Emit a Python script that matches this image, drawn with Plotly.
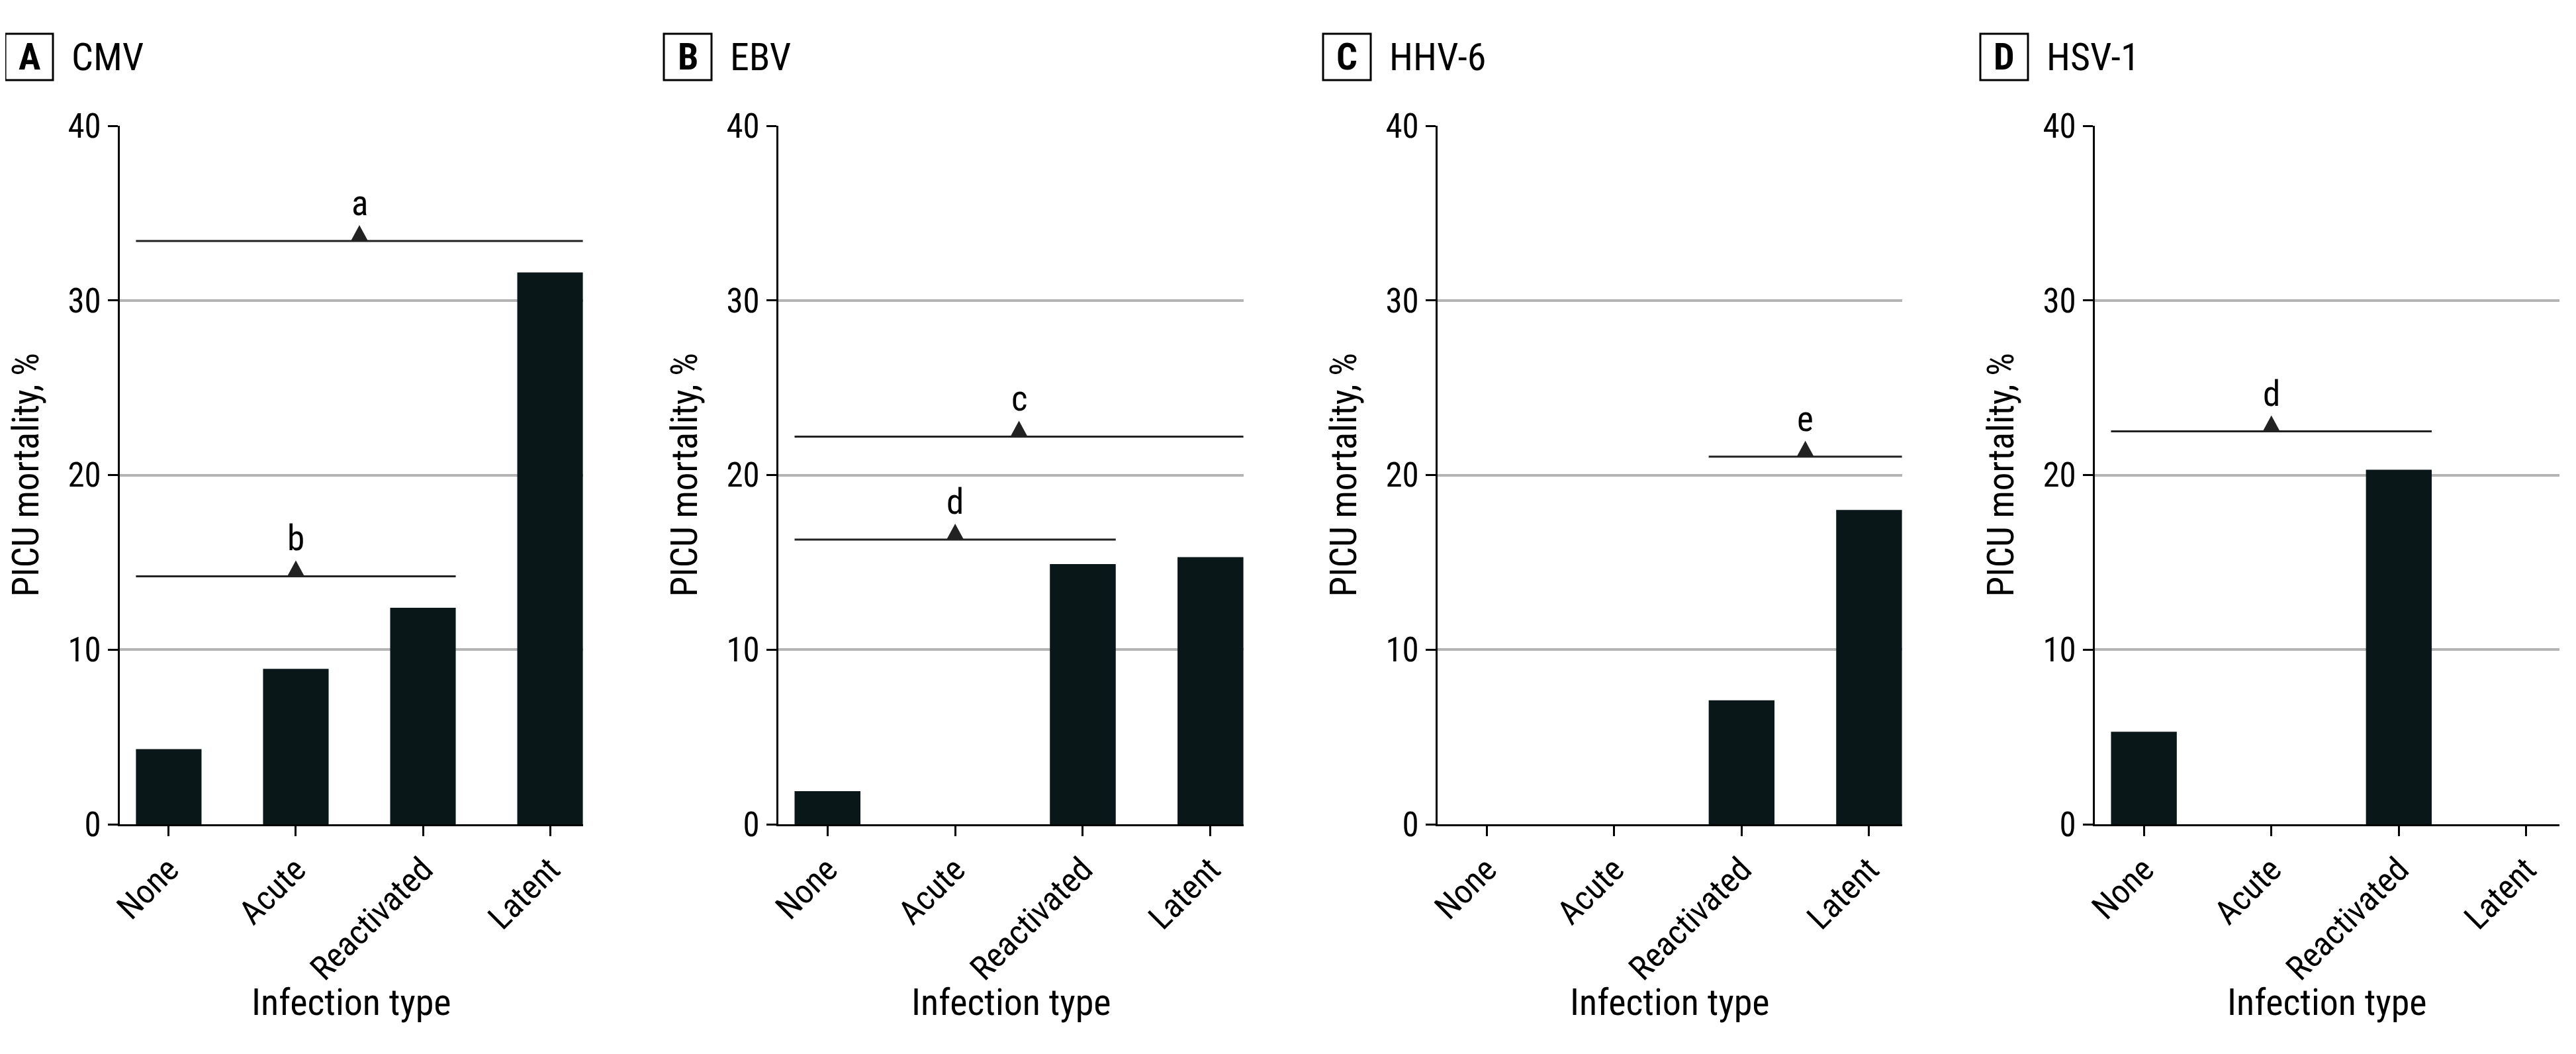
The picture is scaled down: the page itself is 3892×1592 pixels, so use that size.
import plotly.graph_objects as go

# ---------------- data ----------------
categories = ["None", "Acute", "Reactivated", "Latent"]
panel_letters = ["A", "B", "C", "D"]
panel_titles = ["CMV", "EBV", "HHV-6", "HSV-1"]

cmv_mortality = [4.3, 8.9, 12.4, 31.6]
ebv_mortality = [1.9, 0.0, 14.9, 15.3]
hhv6_mortality = [0.0, 0.0, 7.1, 18.0]
hsv1_mortality = [5.3, 0.0, 20.3, 0.0]

# brackets: (first category index, last category index, y value, label)
cmv_brackets = [(0, 3, 33.4, "a"), (0, 2, 14.2, "b")]
ebv_brackets = [(0, 3, 22.2, "c"), (0, 2, 16.3, "d")]
hhv6_brackets = [(2, 3, 21.05, "e")]
hsv1_brackets = [(0, 2, 22.5, "d")]

y_ticks = [0, 10, 20, 30, 40]
y_title = "PICU mortality, %"
x_title = "Infection type"

series = [cmv_mortality, ebv_mortality, hhv6_mortality, hsv1_mortality]
brackets = [cmv_brackets, ebv_brackets, hhv6_brackets, hsv1_brackets]

# ---------------- layout ----------------
W, H = 3892, 1592
OFF = 8  # compensate the page's default body margin
FONT = "Roboto Condensed, DejaVu Sans Condensed, Liberation Sans, sans-serif"
BAR_COLOR = "#0a1718"
LINE_COLOR = "#222222"
HALF_BAR = 0.258


def px_x(v):
    return (v - OFF) / W


def px_y(v):
    return 1 - (v - OFF) / H


panel_px = [(181, 881), (1176, 1879), (2172, 2874), (3165, 3867)]
plot_top_px, plot_bottom_px = 190, 1245
y_dom = [px_y(plot_bottom_px), px_y(plot_top_px)]

fig = go.Figure()
shapes = []
annotations = []

for i in range(4):
    xa = "x" if i == 0 else f"x{i+1}"
    ya = "y" if i == 0 else f"y{i+1}"
    xkey = "xaxis" if i == 0 else f"xaxis{i+1}"
    ykey = "yaxis" if i == 0 else f"yaxis{i+1}"
    x0p, x1p = panel_px[i]
    dom = [px_x(x0p), px_x(x1p)]

    fig.add_trace(go.Bar(
        x=categories, y=series[i], xaxis=xa, yaxis=ya,
        marker=dict(color=BAR_COLOR, line=dict(width=0)),
        width=2 * HALF_BAR, showlegend=False, hoverinfo="x+y",
    ))

    fig.update_layout(**{
        xkey: dict(
            domain=dom, anchor=ya, type="category", automargin=False,
            categoryorder="array", categoryarray=categories,
            range=[-0.385, 3.26], showgrid=False, zeroline=False,
            showline=True, linecolor="black", linewidth=3,
            ticks="outside", ticklen=15, tickwidth=3, tickcolor="black",
            tickangle=-45, tickfont=dict(family=FONT, size=51, color="black"),
            fixedrange=True,
        ),
        ykey: dict(
            domain=y_dom, anchor=xa, range=[0, 40], tickvals=y_ticks, automargin=False,
            showgrid=True, gridcolor="#b4b4b4", gridwidth=3.5, zeroline=False,
            showline=True, linecolor="black", linewidth=3,
            ticks="outside", ticklen=15, tickwidth=3, tickcolor="black",
            tickfont=dict(family=FONT, size=51, color="black"),
            fixedrange=True,
        ),
    })

    # significance brackets
    for (a, b, yv, lab) in brackets[i]:
        xs, xe = a - HALF_BAR, b + HALF_BAR
        mid = (xs + xe) / 2
        shapes.append(dict(type="line", xref=xa, yref=ya, x0=xs, x1=xe, y0=yv, y1=yv,
                           line=dict(color=LINE_COLOR, width=3), layer="above"))
        shapes.append(dict(type="path", xref=xa, yref=ya, xsizemode="pixel", ysizemode="pixel",
                           xanchor=mid, yanchor=yv, path="M-13,0 L13,0 L0,24 Z",
                           fillcolor=LINE_COLOR, line=dict(width=0), layer="above"))
        annotations.append(dict(x=mid, y=yv, xref=xa, yref=ya, text=lab, showarrow=False,
                                yanchor="bottom", yshift=24,
                                font=dict(family=FONT, size=53, color="black")))

    # panel label box
    shapes.append(dict(type="rect", xref="paper", yref="paper",
                       x0=px_x(x0p - 173), x1=px_x(x0p - 101),
                       y0=px_y(121), y1=px_y(51),
                       line=dict(color="black", width=3), fillcolor="white"))
    annotations.append(dict(x=px_x(x0p - 137), y=px_y(86), xref="paper", yref="paper",
                            text=f"<b>{panel_letters[i]}</b>", showarrow=False,
                            xanchor="center", yanchor="middle",
                            font=dict(family=FONT, size=56, color="black")))
    annotations.append(dict(x=px_x(x0p - 75), y=px_y(86), xref="paper", yref="paper",
                            text=panel_titles[i], showarrow=False,
                            xanchor="left", yanchor="middle",
                            font=dict(family=FONT, size=58, color="black")))
    # axis titles
    annotations.append(dict(x=px_x(x0p - 143), y=(y_dom[0] + y_dom[1]) / 2,
                            xref="paper", yref="paper", text=y_title, textangle=-90,
                            showarrow=False, xanchor="center", yanchor="middle",
                            font=dict(family=FONT, size=55, color="black")))
    annotations.append(dict(x=px_x((x0p + x1p) / 2), y=px_y(1514),
                            xref="paper", yref="paper", text=x_title,
                            showarrow=False, xanchor="center", yanchor="middle",
                            font=dict(family=FONT, size=56, color="black")))

fig.update_layout(
    width=W, height=H,
    margin=dict(l=0, r=0, t=0, b=0, autoexpand=False),
    paper_bgcolor="white", plot_bgcolor="white",
    bargap=0.485,
    shapes=shapes, annotations=annotations,
    font=dict(family=FONT, color="black"),
)

fig.write_html("out.html")
